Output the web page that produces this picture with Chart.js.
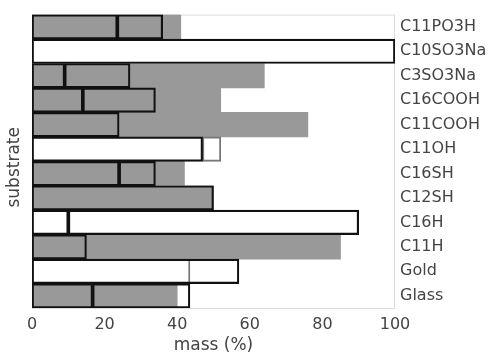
<!DOCTYPE html>
<html>
<head>
<meta charset="utf-8">
<script src="https://cdn.jsdelivr.net/npm/chart.js@4/dist/chart.umd.min.js"></script>
<style>
  html, body { margin: 0; padding: 0; background: #fff; }
  #wrap { width: 497px; height: 356px; }
</style>
</head>
<body>
<div id="wrap"><canvas id="chart"></canvas></div>
<script>
// substrates, top to bottom
const substrates = ["C11PO3H", "C10SO3Na", "C3SO3Na", "C16COOH", "C11COOH", "C11OH",
  "C16SH", "C12SH", "C16H", "C11H", "Gold", "Glass"];

// grey filled bar (no outline)
const greyMass = [41, 0, 64, 52, 76, 0, 42, 50, 0, 85, 0, 40];
// first outlined segment [from, to]
const firstSeg = [[0, 23.5], [0, 100], [0, 9], [0, 14], [0, 24], [0, 47],
  [0, 24], [0, 50], [0, 10], [0, 15], [0, 57], [0, 16.7]];
// second outlined segment
const secondSeg = [[23.5, 36], null, [9, 27], [14, 34], null, null,
  [24, 34], null, [10, 90], null, null, [16.7, 43.5]];
// faint outlined segment
const faintSeg = [null, null, null, null, null, [47, 52],
  null, null, null, null, [0, 43.5], null];

const xTicks = [0, 20, 40, 60, 80, 100];

const FONT = "'DejaVu Sans', sans-serif";
const TEXT = '#444';

// light frame round the plot + left "substrate" label
const framePlugin = {
  id: 'frame',
  beforeDatasetsDraw(chart) {
    const a = chart.chartArea, ctx = chart.ctx;
    ctx.save();
    ctx.strokeStyle = '#dcdcdc';
    ctx.lineWidth = 1;
    ctx.strokeRect(a.left + 0.5, a.top + 0.5, a.right - a.left - 1, a.bottom - a.top);
    ctx.restore();
  },
  afterDraw(chart) {
    const a = chart.chartArea, ctx = chart.ctx;
    ctx.save();
    ctx.translate(15, (a.top + a.bottom) / 2 + 6);
    ctx.rotate(-Math.PI / 2);
    ctx.fillStyle = TEXT;
    ctx.font = "17px " + FONT;
    ctx.textAlign = 'center';
    ctx.textBaseline = 'middle';
    ctx.fillText('substrate', 0, 0);
    ctx.restore();
  }
};

function outlined(data, color, width, order) {
  return {
    data: data,
    backgroundColor: 'rgba(0,0,0,0)',
    borderColor: color,
    borderWidth: width,
    borderSkipped: false,
    grouped: false,
    barPercentage: 1,
    categoryPercentage: 1,
    order: order
  };
}

new Chart(document.getElementById('chart'), {
  type: 'bar',
  data: {
    labels: substrates,
    datasets: [
      outlined(firstSeg, '#111', 1.5, 0),
      outlined(secondSeg, '#111', 1.5, 1),
      outlined(faintSeg, '#777', 1.2, 2),
      {
        data: greyMass,
        backgroundColor: '#999',
        borderWidth: 0,
        grouped: false,
        barPercentage: 1,
        categoryPercentage: 1,
        order: 3
      }
    ]
  },
  options: {
    indexAxis: 'y',
    responsive: true,
    maintainAspectRatio: false,
    animation: false,
    layout: { padding: { left: 32, top: 12, right: 0, bottom: 0 } },
    plugins: { legend: { display: false }, tooltip: { enabled: false } },
    scales: {
      x: {
        min: 0, max: 100,
        afterBuildTicks(axis) { axis.ticks = xTicks.map(v => ({ value: v })); },
        afterFit(axis) { axis.height = 48; },
        grid: { display: false, drawTicks: false },
        border: { display: false },
        ticks: { color: TEXT, font: { family: FONT, size: 16 }, padding: 7 },
        title: { display: true, text: 'mass (%)', color: TEXT, font: { family: FONT, size: 17 }, padding: { top: 3, bottom: 0 } }
      },
      y: {
        position: 'right',
        afterFit(axis) { axis.width = 102; },
        grid: { display: false, drawTicks: false },
        border: { display: false },
        ticks: { color: TEXT, font: { family: FONT, size: 16 }, padding: 5 }
      }
    }
  },
  plugins: [framePlugin]
});
</script>
</body>
</html>
